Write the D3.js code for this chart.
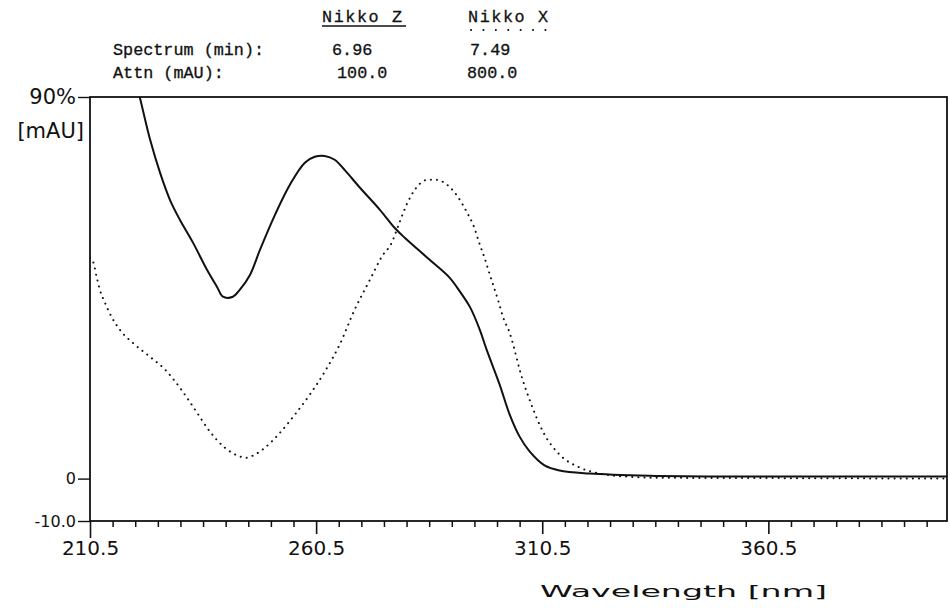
<!DOCTYPE html>
<html>
<head>
<meta charset="utf-8">
<script src="https://cdn.jsdelivr.net/npm/d3@7"></script>
<style>
  html, body { margin: 0; padding: 0; background: #fff; }
  svg { display: block; }
  .mono { font-family: "Liberation Mono", "DejaVu Sans Mono", monospace; font-size: 16.8px; fill: #111; stroke: #111; stroke-width: 0.3; }
  .tick text { font-family: "DejaVu Sans", sans-serif; fill: #111; }
</style>
</head>
<body>
<div id="chart"></div>
<script>
// Nikko Z (solid) - wavelength [nm] / absorbance [% of attn]
const zWave = [221.0, 221.5, 223.8, 226.0, 228.2, 230.4, 233.3, 236.4, 238.6, 239.9,
  242.1, 243.6, 245.9, 248.1, 251.4, 254.7, 258.0, 260.2, 262.4, 264.6,
  266.8, 270.2, 274.6, 277.9, 280.1, 285.6, 290.0, 292.3, 294.5, 296.7,
  298.2, 301.1, 303.3, 305.5, 307.7, 311.0, 314.3, 320.9, 334.2, 356.3,
  378.4, 400.0];
const zAbs = [92, 90.0, 79.9, 72.1, 65.7, 61.0, 55.6, 49.2, 45.2, 42.9,
  42.9, 44.5, 48.1, 54.0, 62.2, 69.3, 74.5, 75.9, 76.1, 75.2,
  72.8, 68.6, 63.4, 59.1, 56.8, 51.6, 47.4, 44.1, 40.5, 35.1,
  30.4, 22.1, 15.1, 9.9, 6.4, 3.1, 1.9, 1.2, 0.7, 0.5,
  0.5, 0.5];

// Nikko X (dotted)
const xWave = [210.5, 211.2, 212.0, 212.7, 213.8, 215.4, 217.1, 220.4, 223.8, 227.1,
  230.4, 233.7, 237.0, 240.3, 243.2, 245.0, 247.0, 249.2, 252.5, 255.8,
  259.1, 262.4, 265.7, 269.0, 272.4, 275.0, 277.2, 279.0, 280.5, 282.3,
  283.6, 285.2, 286.7, 288.5, 290.0, 292.0, 293.8, 295.4, 296.5, 297.6,
  298.7, 299.8, 300.9, 301.9, 303.3, 304.2, 305.5, 307.7, 311.0, 314.3,
  318.8, 323.2, 328.7, 336.4, 367.4, 400.0];
const xAbs = [52.1, 51.1, 47.4, 44.5, 41.5, 37.9, 35.1, 31.6, 28.7, 25.7,
  21.4, 16.3, 11.1, 7.3, 5.4, 4.9, 5.7, 7.3, 10.8, 15.1,
  19.8, 25.2, 31.6, 39.8, 46.9, 52.3, 55.6, 60.6, 64.6, 68.1,
  69.7, 70.5, 70.5, 70.0, 68.8, 66.2, 62.9, 59.4, 55.8, 52.5,
  48.8, 45.2, 41.5, 37.9, 34.4, 31.1, 25.7, 18.6, 10.4, 5.7,
  2.6, 1.2, 0.5, 0.2, 0.1, 0.0];

const seriesNames = ['Nikko Z', 'Nikko X'];
const spectrumMin = ['6.96', '7.49'];
const attnMAU = ['100.0', '800.0'];
const xMajorTicks = [210.5, 260.5, 310.5, 360.5];
const yTicks = [-10, 0, 90];
const yTickLabels = ['-10.0', '0', '90%'];

const width = 950, height = 608;
const margin = { top: 97, right: 3, bottom: 87, left: 90 };

const svg = d3.select('#chart').append('svg')
  .attr('width', width)
  .attr('height', height);

const x = d3.scaleLinear()
  .domain([210.5, 400])
  .range([margin.left, width - margin.right]);

const y = d3.scaleLinear()
  .domain([-10, 90])
  .range([height - margin.bottom, margin.top]);

// clip for curves
svg.append('clipPath').attr('id', 'plot-clip')
  .append('rect')
  .attr('x', x(210.5)).attr('y', y(90))
  .attr('width', x(400) - x(210.5)).attr('height', y(-10) - y(90));

// Minor x ticks (every 5 nm)
const minorTicks = d3.range(210.5, 400, 5).filter(v => !xMajorTicks.includes(v));
svg.append('g')
  .attr('transform', `translate(0, ${y(-10)})`)
  .call(d3.axisBottom(x).tickValues(minorTicks).tickSize(6).tickFormat(''))
  .call(g => g.select('.domain').remove())
  .call(g => g.selectAll('.tick line').attr('stroke', '#111').attr('stroke-width', 1.5));

// Major x ticks with labels
svg.append('g')
  .attr('transform', `translate(0, ${y(-10)})`)
  .call(d3.axisBottom(x).tickValues(xMajorTicks).tickSize(13).tickPadding(6)
    .tickFormat(d => d3.format('.1f')(d)))
  .call(g => g.select('.domain').remove())
  .call(g => g.selectAll('.tick line').attr('stroke', '#111').attr('stroke-width', 1.6)
    .attr('y2', d => d === 210.5 ? 17 : 13))
  .call(g => g.selectAll('.tick text').style('font-size', '20px').attr('dy', '0.75em'));

// Y ticks
svg.append('g')
  .attr('transform', `translate(${x(210.5)}, 0)`)
  .call(d3.axisLeft(y).tickValues(yTicks).tickSize(12).tickPadding(2)
    .tickFormat((d, i) => yTickLabels[i]))
  .call(g => g.select('.domain').remove())
  .call(g => g.selectAll('.tick line').attr('stroke', '#111').attr('stroke-width', 1.4))
  .call(g => g.selectAll('.tick text').style('font-size', d => d === 90 ? '21px' : '16px'));

// [mAU] unit label
svg.append('text')
  .attr('x', x(210.5) - 6)
  .attr('y', y(90) + 41)
  .attr('text-anchor', 'end')
  .style('font-family', '"DejaVu Sans", sans-serif')
  .style('font-size', '21px')
  .style('fill', '#111')
  .text('[mAU]');

// frame
svg.append('rect')
  .attr('x', x(210.5)).attr('y', y(90))
  .attr('width', x(400) - x(210.5)).attr('height', y(-10) - y(90))
  .attr('fill', 'none').attr('stroke', '#111').attr('stroke-width', 1.8);

const dottedLine = d3.line()
  .x(d => x(d[0]))
  .y(d => y(d[1]))
  .curve(d3.curveMonotoneX);

const solidLine = d3.line()
  .x(d => x(d[0]))
  .y(d => y(d[1]))
  .curve(d3.curveCatmullRom.alpha(0.5));

const plot = svg.append('g').attr('clip-path', 'url(#plot-clip)');

plot.append('path')
  .datum(xWave.map((w, i) => [w, xAbs[i]]))
  .attr('d', dottedLine)
  .attr('fill', 'none')
  .attr('stroke', '#111')
  .attr('stroke-width', 2)
  .attr('stroke-linecap', 'round')
  .attr('stroke-dasharray', '0.1 6');

plot.append('path')
  .datum(zWave.map((w, i) => [w, zAbs[i]]))
  .attr('d', solidLine)
  .attr('fill', 'none')
  .attr('stroke', '#111')
  .attr('stroke-width', 2);

// header table
const header = svg.append('g');
const colX = [322, 468];
header.selectAll('.name')
  .data(seriesNames)
  .enter().append('text')
  .attr('class', 'mono name')
  .attr('x', (d, i) => colX[i])
  .attr('y', 22)
  .attr('textLength', 80)
  .attr('lengthAdjust', 'spacing')
  .text(d => d);

header.append('line')
  .attr('x1', colX[0]).attr('x2', colX[0] + 84)
  .attr('y1', 26).attr('y2', 26)
  .attr('stroke', '#111').attr('stroke-width', 1.4);

header.append('line')
  .attr('x1', colX[1] + 3).attr('x2', colX[1] + 82)
  .attr('y1', 30).attr('y2', 30)
  .attr('stroke', '#111').attr('stroke-width', 2)
  .attr('stroke-linecap', 'round')
  .attr('stroke-dasharray', '0.1 12.3');

header.append('text').attr('class', 'mono')
  .attr('x', 113).attr('y', 55).text('Spectrum (min):');
header.append('text').attr('class', 'mono')
  .attr('x', 113).attr('y', 78).text('Attn (mAU):');

header.selectAll('.spec')
  .data(spectrumMin)
  .enter().append('text')
  .attr('class', 'mono spec')
  .attr('x', (d, i) => [332, 470][i])
  .attr('y', 55)
  .text(d => d);

header.selectAll('.attn')
  .data(attnMAU)
  .enter().append('text')
  .attr('class', 'mono attn')
  .attr('x', (d, i) => [337, 467][i])
  .attr('y', 78)
  .text(d => d);

// x axis title
svg.append('text')
  .attr('x', 540)
  .attr('y', 597)
  .attr('textLength', 287)
  .attr('lengthAdjust', 'spacingAndGlyphs')
  .style('font-family', '"DejaVu Sans", sans-serif')
  .style('font-size', '16px')
  .style('fill', '#111')
  .text('Wavelength  [nm]');
</script>
</body>
</html>
